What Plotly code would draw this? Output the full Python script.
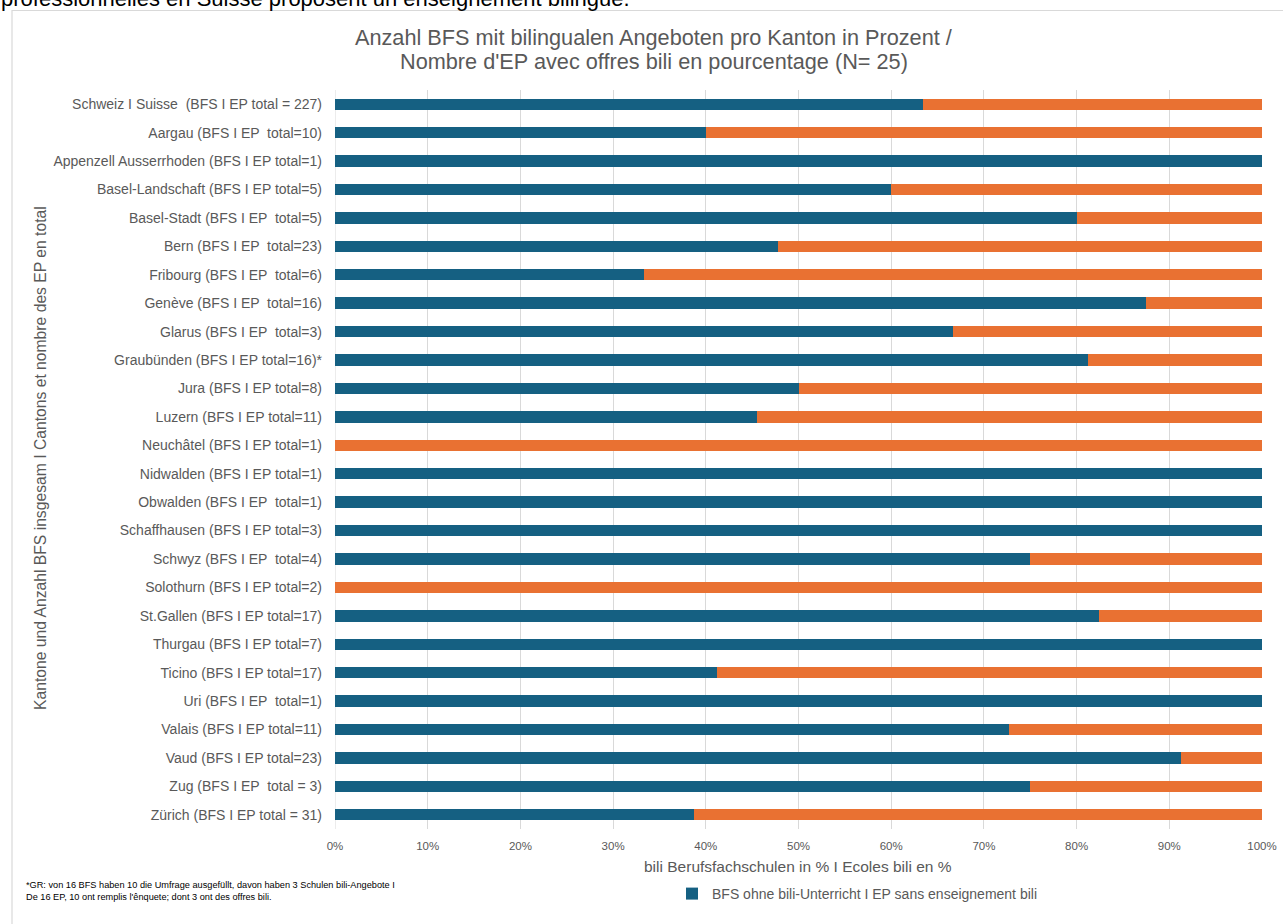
import plotly.graph_objects as go

categories = [
    "Schweiz I Suisse  (BFS I EP total = 227)",
    "Aargau (BFS I EP  total=10)",
    "Appenzell Ausserrhoden (BFS I EP total=1)",
    "Basel-Landschaft (BFS I EP total=5)",
    "Basel-Stadt (BFS I EP  total=5)",
    "Bern (BFS I EP  total=23)",
    "Fribourg (BFS I EP  total=6)",
    "Genève (BFS I EP  total=16)",
    "Glarus (BFS I EP  total=3)",
    "Graubünden (BFS I EP total=16)*",
    "Jura (BFS I EP total=8)",
    "Luzern (BFS I EP total=11)",
    "Neuchâtel (BFS I EP total=1)",
    "Nidwalden (BFS I EP total=1)",
    "Obwalden (BFS I EP  total=1)",
    "Schaffhausen (BFS I EP total=3)",
    "Schwyz (BFS I EP  total=4)",
    "Solothurn (BFS I EP total=2)",
    "St.Gallen (BFS I EP total=17)",
    "Thurgau (BFS I EP total=7)",
    "Ticino (BFS I EP total=17)",
    "Uri (BFS I EP  total=1)",
    "Valais (BFS I EP total=11)",
    "Vaud (BFS I EP total=23)",
    "Zug (BFS I EP  total = 3)",
    "Zürich (BFS I EP total = 31)",
]

# percentage of schools without bilingual teaching (blue)
ohne_bili = [63.4, 40.0, 100.0, 60.0, 80.0, 47.8, 33.3, 87.5, 66.7, 81.25,
             50.0, 45.5, 0.0, 100.0, 100.0, 100.0, 75.0, 0.0, 82.4, 100.0,
             41.2, 100.0, 72.7, 91.3, 75.0, 38.7]
# percentage of schools with bilingual teaching (orange)
mit_bili = [100 - v for v in ohne_bili]

x_ticks = [0, 10, 20, 30, 40, 50, 60, 70, 80, 90, 100]
x_tick_labels = ["0%", "10%", "20%", "30%", "40%", "50%", "60%", "70%", "80%", "90%", "100%"]

title_line1 = "Anzahl BFS mit bilingualen Angeboten pro Kanton in Prozent /"
title_line2 = "Nombre d'EP avec offres bili en pourcentage (N= 25)"
x_title = "bili Berufsfachschulen in % I Ecoles bili en %"
y_title = "Kantone und Anzahl BFS insgesam I Cantons et nombre des EP en total"
legend_name = "BFS ohne bili-Unterricht I EP sans enseignement bili"
footnote = ("*GR: von 16 BFS haben 10 die Umfrage ausgefüllt, davon haben 3 Schulen bili-Angebote I<br>"
            "De 16 EP, 10 ont remplis l'ênquete; dont 3 ont des offres bili.")
top_text = "professionnelles en Suisse proposent un enseignement bilingue."

BLUE = "#156082"
ORANGE = "#E97132"
GREY = "#595959"
FONT = "Liberation Sans, Arial, sans-serif"

W, H = 1283, 924
L, R, T, B = 335, 1262, 90, 829  # plot area in pixels


def px(x):
    return (x - L) / (R - L)


def py(y):
    return (B - y) / (B - T)


fig = go.Figure()
fig.add_trace(go.Bar(
    y=categories, x=ohne_bili, orientation="h", name=legend_name,
    marker=dict(color=BLUE, line=dict(width=0)), width=0.4, showlegend=True,
))
fig.add_trace(go.Bar(
    y=categories, x=mit_bili, orientation="h", name="BFS mit bili-Unterricht",
    marker=dict(color=ORANGE, line=dict(width=0)), width=0.4, showlegend=False,
))

fig.update_layout(
    width=W, height=H,
    barmode="stack",
    paper_bgcolor="white", plot_bgcolor="white",
    margin=dict(l=L, r=W - R, t=T, b=H - B, autoexpand=False),
    font=dict(family=FONT, color=GREY, size=13),
    xaxis=dict(
        range=[0, 100], tickvals=x_ticks, ticktext=x_tick_labels,
        showgrid=True, gridcolor="#d9d9d9", gridwidth=1,
        zeroline=False, showline=False, ticks="", ticklabelstandoff=8,
        tickfont=dict(size=11.5, color=GREY),
    ),
    yaxis=dict(
        categoryorder="array", categoryarray=categories, autorange="reversed",
        showgrid=False, zeroline=False, showline=False, ticks="",
        ticklabelstandoff=12, tickfont=dict(size=14, color=GREY),
    ),
    legend=dict(
        orientation="h", x=px(672), y=py(894), xanchor="left", yanchor="middle",
        font=dict(size=14, color=GREY), bgcolor="rgba(0,0,0,0)",
        itemwidth=30,
    ),
    showlegend=True,
)

# y-axis line at 0 %
fig.add_shape(type="line", xref="x", yref="paper", x0=0, x1=0, y0=0, y1=1,
              line=dict(color="#d9d9d9", width=1), layer="below")

# outer chart frame
fig.add_shape(type="rect", xref="paper", yref="paper",
              x0=px(12), x1=px(1300), y0=py(940), y1=py(10.5),
              line=dict(color="#d9d9d9", width=1.2), layer="below")

annotations = [
    dict(text=title_line1, x=px(654), y=py(37), xanchor="center", yanchor="middle",
         font=dict(size=21.7, color=GREY), showarrow=False),
    dict(text=title_line2, x=px(654), y=py(61), xanchor="center", yanchor="middle",
         font=dict(size=21.7, color=GREY), showarrow=False),
    dict(text=x_title, x=px(798), y=py(866), xanchor="center", yanchor="middle",
         font=dict(size=15.5, color=GREY), showarrow=False),
    dict(text=y_title, x=px(40), y=py(458), xanchor="center", yanchor="middle",
         textangle=-90, font=dict(size=15.7, color=GREY), showarrow=False),
    dict(text=footnote, x=px(24), y=py(891), xanchor="left", yanchor="middle",
         align="left", font=dict(size=9.2, color="#000000"), showarrow=False),
    dict(text=top_text, x=px(-1), y=py(13), xanchor="left", yanchor="bottom",
         align="left", font=dict(size=22, color="#000000"), showarrow=False),
]
for a in annotations:
    a.update(xref="paper", yref="paper")
    fig.add_annotation(**a)

fig.write_html(
    "out.html",
    config={"displayModeBar": False},
    post_script="document.body.style.margin='0px';document.body.style.overflow='hidden';",
)
